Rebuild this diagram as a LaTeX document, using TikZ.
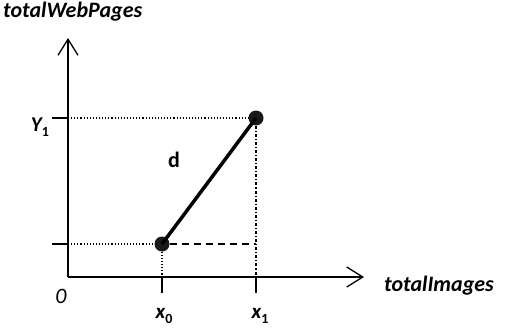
\documentclass[tikz,border=0pt]{standalone}
\usepackage{fontspec}
\setmainfont{Carlito}
\usetikzlibrary{arrows.meta,positioning}

% subscript in the text font
\newcommand{\lowsub}[1]{\raisebox{-0.28em}{\fontsize{14}{16}\selectfont\upshape #1}}

\begin{document}
\begin{tikzpicture}[x=1pt, y=-1pt,
  axis/.style={line width=1.3pt, -{Straight Barb[length=16pt, width=20pt, line width=1.3pt]}},
  tickmark/.style={line width=1.3pt},
  guide/.style={line width=1.1pt, dotted},
  seg/.style={line width=3.5pt},
  pt/.style={circle, fill=black!90, inner sep=0pt, minimum size=15pt},
  lbl/.style={font=\fontsize{22}{24}\selectfont\bfseries\itshape, inner sep=0pt},
  ticklbl/.style={font=\fontsize{21}{24}\selectfont\bfseries\itshape, inner sep=0pt}]

  \useasboundingbox (0,0) rectangle (505,327);

  % axes
  \coordinate (o) at (68,277);
  \coordinate (ytop) at (68,38);
  \coordinate (xend) at (364,277);
  \draw[axis] (o) -- (ytop);
  \draw[axis] (o) -- (xend);
  \node[lbl, anchor=base west] (ylab) at (3,17) {totalWebPages};
  \node[lbl, anchor=base west] (xlab) at (384,291) {totalImages};
  \node[font=\fontsize{22}{24}\selectfont\itshape, inner sep=0pt] (zero) at (61,296) {0};

  % the two points and the distance
  \node[pt] (p0) at (162,244) {};
  \node[pt] (p1) at (256,118) {};
  \draw[seg] (p0.center) -- (p1.center);
  \node[font=\fontsize{22}{24}\selectfont\bfseries, inner sep=0pt] (dist) at (174,160) {d};

  % ticks and guides
  \coordinate (ty1) at (68,118);
  \coordinate (ty0) at (68,244);
  \coordinate (tx0) at (162,277);
  \coordinate (tx1) at (256,277);
  \foreach \t in {ty0, ty1}
    \draw[tickmark] (\t) -- ++(-16,0);
  \foreach \t in {tx0, tx1}
    \draw[tickmark] (\t) -- ++(0,16);
  \draw[guide] (ty1) -- (p1);
  \draw[guide] (ty0) -- (p0);
  \draw[guide] (p0) -- (tx0);
  \draw[line width=1.1pt, dash pattern=on 7pt off 5pt] (p0) -- (p0 -| tx1);
  \draw[line width=1.1pt, dash dot] (p1) -- (tx1);

  % tick labels
  \node[ticklbl, anchor=base] (ylbl) at (40,131) {Y\lowsub{1}};
  \node[ticklbl, anchor=base] (x0lbl) at (164,318) {x\lowsub{0}};
  \node[ticklbl, anchor=base] (x1lbl) at (260,318) {x\lowsub{1}};
\end{tikzpicture}
\end{document}
